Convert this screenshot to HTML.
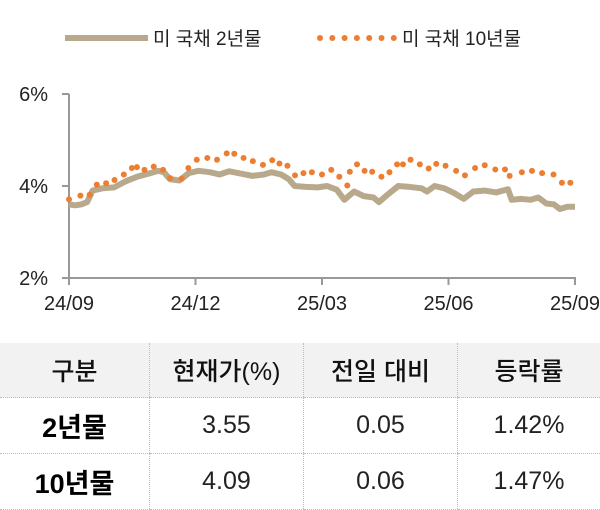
<!DOCTYPE html>
<html><head><meta charset="utf-8"><style>
body{margin:0;width:600px;height:504px;background:#fff;overflow:hidden;font-family:"Liberation Sans","Noto Sans CJK KR",sans-serif;}
svg{position:absolute;left:0;top:0}
table{position:absolute;left:0;top:343px;width:600px;border-collapse:collapse;font-family:"Liberation Sans","Noto Sans CJK KR",sans-serif;}
td{text-align:center;padding:0;border-left:1px dotted #bbb;border-bottom:1px dotted #bbb;color:#111}
td:first-child{border-left:none}
tr.h td{background:#f2f2f2;height:54px;font-size:25px;font-weight:500}
tr.r td{height:55px;font-size:25px;font-weight:300;color:#222}
tr.r td:first-child{font-weight:bold;font-size:27px;color:#000}
</style></head><body>
<svg width="600" height="340">
<g id="legend">
<line x1="65" y1="38" x2="148" y2="38" stroke="#b8a98c" stroke-width="6"/>
<text x="153" y="45" font-size="19" fill="#222" font-family="Liberation Sans,Noto Sans CJK KR,sans-serif">미 국채 2년물</text>
<g id="legdots"></g>
<text x="402" y="45" font-size="19" fill="#222" font-family="Liberation Sans,Noto Sans CJK KR,sans-serif">미 국채 10년물</text>
</g>
<g id="axes"></g><g id="plot"></g>
</svg>
<table>
<tr class="h"><td style="width:149px">구분</td><td style="width:153px">현재가(%)</td><td style="width:153px">전일 대비</td><td>등락률</td></tr>
<tr class="r"><td>2년물</td><td>3.55</td><td>0.05</td><td>1.42%</td></tr>
<tr class="r"><td>10년물</td><td>4.09</td><td>0.06</td><td>1.47%</td></tr>
</table>
<script>
const xTickLabels=["24/09","24/12","25/03","25/06","25/09"];
const xTickMonths=[0,3,6,9,12];
const yTicks=[2,4,6];
const t2=[0,.15,.29,.43,.56,.79,1.07,1.34,1.61,1.89,2.11,2.25,2.39,2.62,2.84,3.07,3.34,3.57,3.80,4.07,4.35,4.62,4.80,5.03,5.21,5.35,5.62,5.90,6.12,6.35,6.53,6.76,6.99,7.22,7.35,7.54,7.81,8.08,8.36,8.49,8.67,8.90,9.13,9.36,9.59,9.86,10.13,10.41,10.50,10.72,10.95,11.13,11.32,11.50,11.64,11.82,12];
const v2=[3.6,3.58,3.6,3.65,3.9,3.95,3.97,4.1,4.2,4.27,4.33,4.3,4.15,4.12,4.28,4.33,4.3,4.25,4.32,4.27,4.22,4.25,4.3,4.25,4.15,4.0,3.98,3.97,4.0,3.92,3.7,3.88,3.78,3.75,3.65,3.8,4.0,3.98,3.95,3.88,4.0,3.95,3.85,3.72,3.88,3.9,3.86,3.93,3.7,3.72,3.7,3.75,3.62,3.6,3.5,3.55,3.55];
const t10=[0,.27,.49,.66,.88,1.08,1.30,1.49,1.61,1.79,2.01,2.23,2.40,2.67,2.83,3.03,3.28,3.51,3.74,3.92,4.14,4.36,4.60,4.82,4.99,5.18,5.36,5.56,5.76,6.00,6.22,6.41,6.60,6.66,6.83,7.01,7.19,7.41,7.60,7.78,7.92,8.10,8.32,8.53,8.71,8.93,9.18,9.39,9.63,9.86,10.11,10.34,10.45,10.74,10.98,11.22,11.49,11.69,11.89];
const v10=[3.71,3.79,3.81,4.03,4.06,4.13,4.25,4.39,4.41,4.35,4.42,4.35,4.17,4.16,4.39,4.57,4.61,4.57,4.71,4.70,4.61,4.54,4.46,4.56,4.49,4.44,4.23,4.28,4.30,4.25,4.35,4.20,4.01,4.31,4.47,4.33,4.31,4.20,4.30,4.47,4.47,4.57,4.47,4.38,4.48,4.44,4.33,4.23,4.39,4.45,4.36,4.36,4.22,4.30,4.33,4.28,4.25,4.07,4.07];
const NS="http://www.w3.org/2000/svg";
const X=t=>69+t/12*506, Y=v=>186-(v-4)*46;
function mk(tag,attrs,parent){const e=document.createElementNS(NS,tag);for(const k in attrs)e.setAttribute(k,attrs[k]);parent.appendChild(e);return e;}
const axes=document.getElementById('axes'),plot=document.getElementById('plot');
let e=mk('line',{x1:69,y1:Y(6),x2:69,y2:Y(2),stroke:'#999','stroke-width':2},axes);


e=mk('line',{x1:69,y1:Y(2),x2:576,y2:Y(2),stroke:'#999','stroke-width':2},axes);


yTicks.forEach(v=>{
 mk('line',{x1:62,y1:Y(v),x2:69,y2:Y(v),stroke:'#999','stroke-width':2},axes);
 const t=mk('text',{x:48,y:Y(v)+7,'font-size':20,'text-anchor':'end',fill:'#222'},axes);t.textContent=v+'%';
 
 
});
xTickMonths.forEach((m,i)=>{
 mk('line',{x1:X(m),y1:Y(2),x2:X(m),y2:Y(2)+7,stroke:'#999','stroke-width':2},axes);
 const t=mk('text',{x:X(m),y:Y(2)+32,'font-size':20,'text-anchor':'middle',fill:'#222'},axes);t.textContent=xTickLabels[i];
 
 
});
const l=mk('polyline',{points:t2.map((t,i)=>X(t)+','+Y(v2[i])).join(' '),fill:'none',stroke:'#b8a98c','stroke-width':6,'stroke-linejoin':'round'},plot);


t10.forEach((t,i)=>{const c=mk('circle',{cx:X(t),cy:Y(v10[i]),r:3,fill:'#ed7d31'},plot);
 
 });
const ld=document.getElementById('legdots');
for(let i=0;i<7;i++){mk('circle',{cx:320+i*12.3,cy:38,r:3,fill:'#ed7d31'},ld);}
</script>
</body></html>
